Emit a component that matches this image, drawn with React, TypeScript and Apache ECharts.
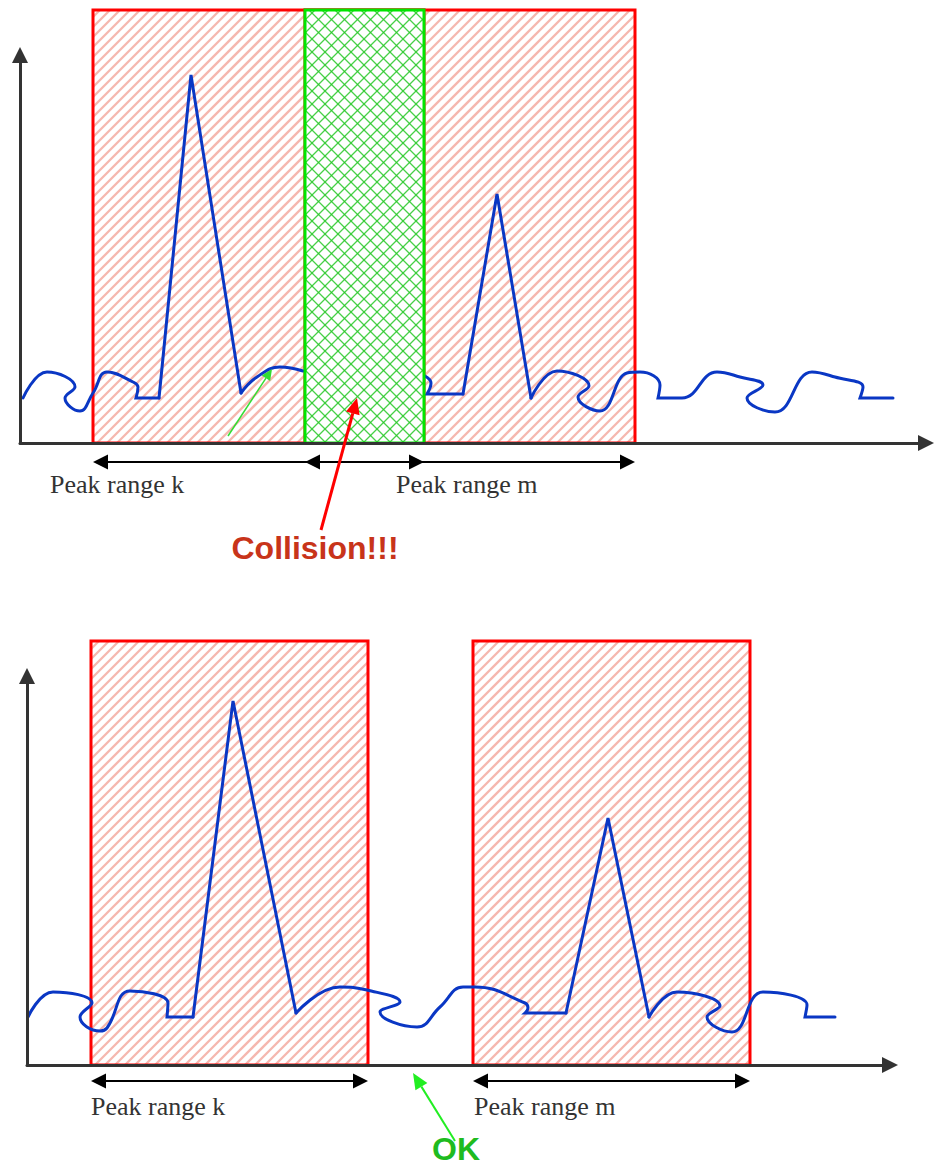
import React, { useEffect, useRef } from "react";
import * as echarts from "echarts";

// ---------------- data: upper panel (collision) ----------------
// peak ranges: [start, end, height]
const TOP_PEAK_RANGES = [
  [93, 424, 433],
  [305, 635, 433],
];
const TOP_OVERLAP = [[305, 424, 433]];
const TOP_RANGE_NAMES = ["Peak range k", "Peak range m"];

const TOP_NOISE_1 = [[23, 45], [47, 71], [75, 56], [65, 45], [80, 32], [93, 50], [107, 71], [133, 61], [138, 56], [136, 45], [159, 45]];
const TOP_PEAK_K = [[159, 45], [191, 368], [241, 50]];
const TOP_NOISE_2 = [[241, 50], [257, 66], [280, 76], [303, 72]];
const TOP_NOISE_3 = [[425, 67], [431, 60], [427, 49], [463, 49]];
const TOP_PEAK_M = [[463, 49], [497, 249], [531, 45]];
const TOP_NOISE_4 = [[531, 45], [557, 72], [589, 57], [578, 46], [600, 32], [627, 70], [640, 71], [660, 58], [658, 45], [682, 45], [717, 71], [740, 66], [763, 58], [747, 45], [775, 31], [812, 71], [835, 66], [863, 56], [860, 45], [893, 45]];

const COLLISION_ARROW = [[321, -87, 357, 45]];
const SMALL_GREEN_ARROW = [[228, 7, 272, 74]];
const COLLISION_TEXT = "Collision!!!";
const COLLISION_TEXT_AT = [315, -105];

// ---------------- data: lower panel (OK) ----------------
const BOT_PEAK_RANGES = [
  [91, 368, 424],
  [473, 750, 424],
];
const BOT_RANGE_NAMES = ["Peak range k", "Peak range m"];

const BOT_NOISE_1 = [[28, 48], [53, 73], [92, 62], [80, 48], [100, 34], [107, 37], [130, 74], [168, 62], [167, 48], [193, 48]];
const BOT_PEAK_K = [[193, 48], [233, 364], [296, 52]];
const BOT_NOISE_2 = [[296, 52], [340, 78], [367, 75], [400, 63], [380, 53], [417, 38], [440, 58], [463, 78], [475, 78], [525, 62], [528, 57], [525, 52], [566, 52]];
const BOT_PEAK_M = [[566, 52], [608, 247], [649, 48]];
const BOT_NOISE_3 = [[649, 48], [677, 73], [720, 59], [707, 48], [732, 33], [763, 73], [807, 60], [805, 48], [835, 48]];

const OK_ARROW = [[455, -76, 413, -8]];
const OK_TEXT = "OK";
const OK_TEXT_AT = [456, -84];

// ---------------- layout / style ----------------
const TOP_ARROW_Y = -19;
const TOP_LABEL_Y = -41;
const TOP_LABEL_DX = [-43, 91];
const BOT_ARROW_Y = -16;
const BOT_LABEL_Y = -41;
const BOT_LABEL_DX = [0, 1];

const SIGNAL_COLOR = "#0a37c4";
const AXIS_COLOR = "#333333";

function hatch(x0: number, y0: number, x1: number, y1: number, step: number, dir: number) {
  const segs: number[][] = [];
  if (dir > 0) {
    const cStart = Math.ceil((x0 + y0) / step) * step;
    for (let c = cStart; c <= x1 + y1; c += step) {
      const xa = Math.max(x0, c - y1);
      const xb = Math.min(x1, c - y0);
      if (xb > xa) segs.push([xa, c - xa, xb, c - xb]);
    }
  } else {
    const cStart = Math.ceil((x0 - y1) / step) * step;
    for (let c = cStart; c <= x1 - y0; c += step) {
      const xa = Math.max(x0, c + y0);
      const xb = Math.min(x1, c + y1);
      if (xb > xa) segs.push([xa, xa - c, xb, xb - c]);
    }
  }
  return segs;
}

function rangeRectSeries(gridIndex: number, data: number[][], kind: "red" | "green", z: number) {
  return {
    type: "custom",
    xAxisIndex: gridIndex,
    yAxisIndex: gridIndex,
    z,
    silent: true,
    data,
    renderItem: (params: any, api: any) => {
      const p0 = api.coord([api.value(0), api.value(2)]);
      const p1 = api.coord([api.value(1), 0]);
      const x0 = p0[0], y0 = p0[1], x1 = p1[0], y1 = p1[1];
      const children: any[] = [];
      if (kind === "green") {
        children.push({ type: "rect", shape: { x: x0, y: y0, width: x1 - x0, height: y1 - y0 }, style: { fill: "#ffffff" } });
        const segs = hatch(x0, y0, x1, y1, 13, 1).concat(hatch(x0, y0, x1, y1, 13, -1));
        segs.forEach((s) =>
          children.push({ type: "line", shape: { x1: s[0], y1: s[1], x2: s[2], y2: s[3] }, style: { stroke: "rgba(40,200,40,0.85)", lineWidth: 1.3 } })
        );
        children.push({ type: "rect", shape: { x: x0, y: y0, width: x1 - x0, height: y1 - y0 }, style: { fill: "none", stroke: "#00e600", lineWidth: 3 } });
      } else {
        const segs = hatch(x0, y0, x1, y1, 10, 1);
        segs.forEach((s) =>
          children.push({ type: "line", shape: { x1: s[0], y1: s[1], x2: s[2], y2: s[3] }, style: { stroke: "rgba(232,95,75,0.45)", lineWidth: 2.3 } })
        );
        children.push({ type: "rect", shape: { x: x0, y: y0, width: x1 - x0, height: y1 - y0 }, style: { fill: "none", stroke: "#ff0000", lineWidth: 3 } });
      }
      return { type: "group", children };
    },
  };
}

function headPolygon(tip: number[], from: number[], len: number, half: number) {
  const dx = tip[0] - from[0], dy = tip[1] - from[1];
  const d = Math.sqrt(dx * dx + dy * dy) || 1;
  const ux = dx / d, uy = dy / d;
  const bx = tip[0] - ux * len, by = tip[1] - uy * len;
  return {
    base: [bx, by],
    points: [tip, [bx - uy * half, by + ux * half], [bx + uy * half, by - ux * half]],
  };
}

function rangeArrowSeries(gridIndex: number, data: number[][], names: string[], yArrow: number, yLabel: number, labelDx: number[]) {
  return {
    type: "custom",
    xAxisIndex: gridIndex,
    yAxisIndex: gridIndex,
    z: 4,
    silent: true,
    data,
    renderItem: (params: any, api: any) => {
      const a = api.coord([api.value(0), yArrow]);
      const b = api.coord([api.value(1), yArrow]);
      const l = api.coord([api.value(0) + labelDx[params.dataIndex], yLabel]);
      const h1 = headPolygon(a, b, 15, 7.5);
      const h2 = headPolygon(b, a, 15, 7.5);
      return {
        type: "group",
        children: [
          { type: "line", shape: { x1: h1.base[0], y1: a[1], x2: h2.base[0], y2: b[1] }, style: { stroke: "#000", lineWidth: 2 } },
          { type: "polygon", shape: { points: h1.points }, style: { fill: "#000" } },
          { type: "polygon", shape: { points: h2.points }, style: { fill: "#000" } },
          {
            type: "text",
            x: l[0],
            y: l[1],
            style: { text: names[params.dataIndex], fill: "#333", fontSize: 26, fontFamily: "Liberation Serif", align: "left", verticalAlign: "middle" },
          },
        ],
      };
    },
  };
}

function annotationSeries(gridIndex: number, data: number[][], color: string, width: number, len: number, half: number, text?: string, textAt?: number[], textColor?: string) {
  return {
    type: "custom",
    xAxisIndex: gridIndex,
    yAxisIndex: gridIndex,
    z: 6,
    silent: true,
    data,
    renderItem: (params: any, api: any) => {
      const p = api.coord([api.value(0), api.value(1)]);
      const q = api.coord([api.value(2), api.value(3)]);
      const h = headPolygon(q, p, len, half);
      const children: any[] = [
        { type: "line", shape: { x1: p[0], y1: p[1], x2: h.base[0], y2: h.base[1] }, style: { stroke: color, lineWidth: width } },
        { type: "polygon", shape: { points: h.points }, style: { fill: color } },
      ];
      if (text && textAt) {
        const t = api.coord(textAt);
        children.push({
          type: "text",
          x: t[0],
          y: t[1],
          style: { text, fill: textColor, fontSize: 32, fontWeight: "bold", fontFamily: "Liberation Sans", align: "center", verticalAlign: "middle" },
        });
      }
      return { type: "group", children };
    },
  };
}

function signal(gridIndex: number, data: number[][], smooth: boolean) {
  return {
    type: "line",
    xAxisIndex: gridIndex,
    yAxisIndex: gridIndex,
    data,
    smooth: smooth ? 0.45 : false,
    showSymbol: false,
    symbol: "none",
    silent: true,
    z: 2,
    lineStyle: { color: SIGNAL_COLOR, width: 3, join: "miter", cap: "round" },
  };
}

function axisPair(gridIndex: number, xmin: number, xmax: number, ymax: number) {
  const line = { show: true, onZero: false, symbol: ["none", "triangle"], symbolSize: [16, 16], lineStyle: { color: AXIS_COLOR, width: 3 } };
  return {
    x: { type: "value", gridIndex, min: xmin, max: xmax, z: 5, axisLine: line, axisTick: { show: false }, axisLabel: { show: false }, splitLine: { show: false } },
    y: { type: "value", gridIndex, min: 0, max: ymax, z: 5, axisLine: line, axisTick: { show: false }, axisLabel: { show: false }, splitLine: { show: false } },
  };
}

export default function App() {
  const ref = useRef<HTMLDivElement>(null);
  useEffect(() => {
    document.body.style.margin = "0";
    if (!ref.current) return;
    const chart = echarts.init(ref.current, null, { renderer: "svg" });
    const a0 = axisPair(0, 20, 926, 388);
    const a1 = axisPair(1, 27, 890, 389);
    chart.setOption({
      animation: false,
      backgroundColor: "#ffffff",
      grid: [
        { left: 20, top: 55, width: 906, height: 388 },
        { left: 27, top: 676, width: 863, height: 389 },
      ],
      xAxis: [a0.x, a1.x],
      yAxis: [a0.y, a1.y],
      series: [
        rangeRectSeries(0, TOP_PEAK_RANGES, "red", 1),
        signal(0, TOP_NOISE_1, true),
        signal(0, TOP_PEAK_K, false),
        signal(0, TOP_NOISE_2, true),
        signal(0, TOP_NOISE_3, true),
        signal(0, TOP_PEAK_M, false),
        signal(0, TOP_NOISE_4, true),
        rangeRectSeries(0, TOP_OVERLAP, "green", 3),
        rangeArrowSeries(0, TOP_PEAK_RANGES, TOP_RANGE_NAMES, TOP_ARROW_Y, TOP_LABEL_Y, TOP_LABEL_DX),
        annotationSeries(0, SMALL_GREEN_ARROW, "#33dd33", 1.5, 11, 5),
        annotationSeries(0, COLLISION_ARROW, "#ff0000", 3, 16, 7, COLLISION_TEXT, COLLISION_TEXT_AT, "#c8341a"),

        rangeRectSeries(1, BOT_PEAK_RANGES, "red", 1),
        signal(1, BOT_NOISE_1, true),
        signal(1, BOT_PEAK_K, false),
        signal(1, BOT_NOISE_2, true),
        signal(1, BOT_PEAK_M, false),
        signal(1, BOT_NOISE_3, true),
        rangeArrowSeries(1, BOT_PEAK_RANGES, BOT_RANGE_NAMES, BOT_ARROW_Y, BOT_LABEL_Y, BOT_LABEL_DX),
        annotationSeries(1, OK_ARROW, "#22ee22", 2, 16, 7, OK_TEXT, OK_TEXT_AT, "#1fbb1f"),
      ],
    });
    return () => chart.dispose();
  }, []);
  return <div ref={ref} style={{ width: 934, height: 1167 }} />;
}
